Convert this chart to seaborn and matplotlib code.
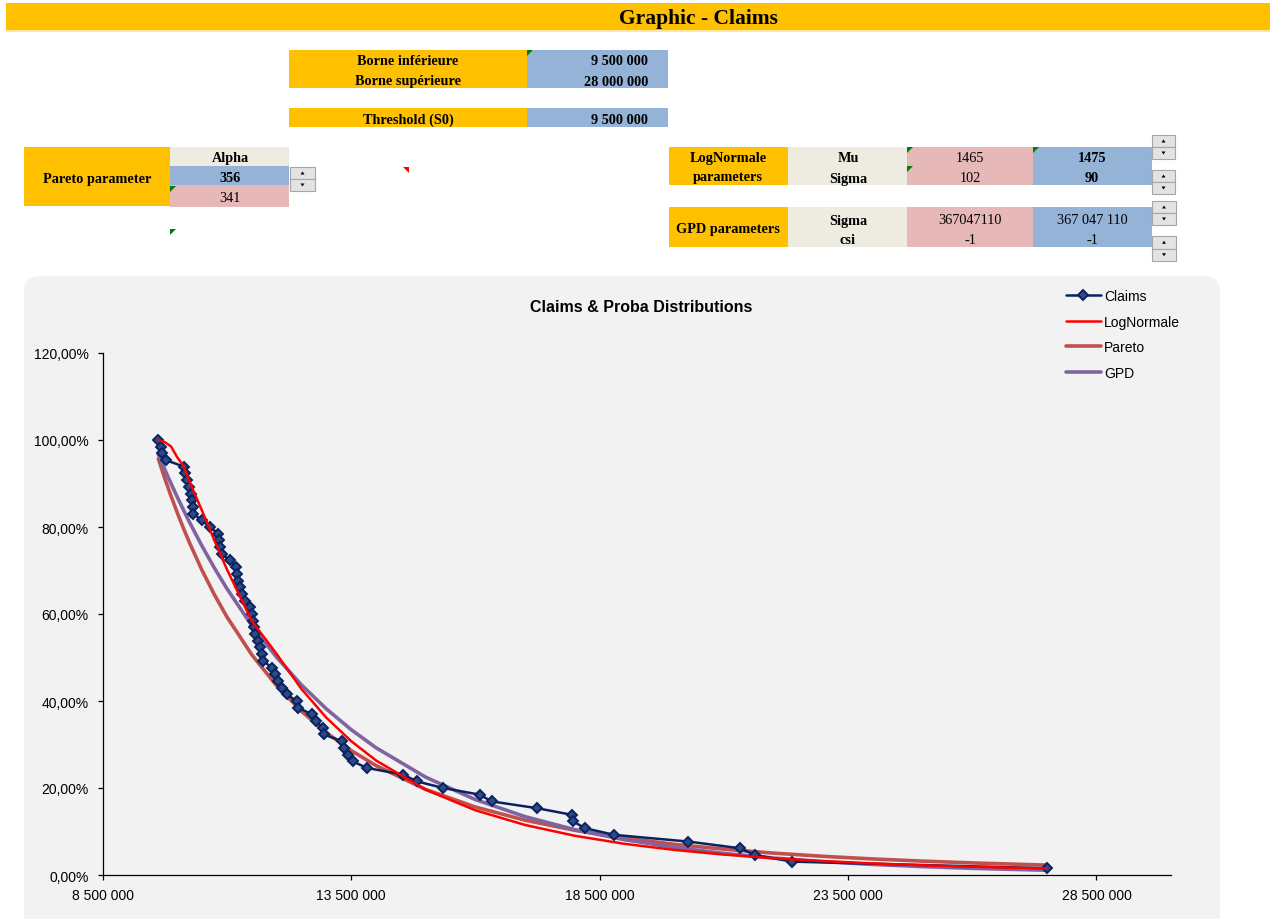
import numpy as np
import pandas as pd
import matplotlib
matplotlib.use("Agg")
import matplotlib.pyplot as plt
import seaborn as sns
from matplotlib.patches import Rectangle, FancyBboxPatch, Polygon
from matplotlib.ticker import FuncFormatter, FixedLocator

# ---------------- data ----------------
claims_x = [9619000, 9673000, 9687000, 9768000, 10142000, 10156000, 10190000, 10236000,
            10271000, 10291000, 10311000, 10323000, 10492000, 10659000, 10826000, 10846000,
            10870000, 10894000, 11061000, 11182000, 11196000, 11228000, 11263000, 11297000,
            11363000, 11464000, 11498000, 11524000, 11544000, 11564000, 11631000, 11665000,
            11699000, 11731000, 11900000, 11967000, 12033000, 12102000, 12202000, 12403000,
            12429000, 12717000, 12792000, 12939000, 12950000, 13309000, 13355000, 13442000,
            13530000, 13812000, 14548000, 14818000, 15353000, 16091000, 16327000, 17232000,
            17936000, 17969000, 18204000, 18793000, 20282000, 21323000, 21624000, 22363000,
            27513000]
claims_y = [1.0000, 0.9846, 0.9692, 0.9538, 0.9385, 0.9231, 0.9077, 0.8923, 0.8769, 0.8615,
            0.8462, 0.8308, 0.8154, 0.8000, 0.7846, 0.7692, 0.7538, 0.7385, 0.7231, 0.7077,
            0.6923, 0.6769, 0.6615, 0.6462, 0.6308, 0.6154, 0.6000, 0.5846, 0.5692, 0.5538,
            0.5385, 0.5231, 0.5077, 0.4923, 0.4769, 0.4615, 0.4462, 0.4308, 0.4154, 0.4000,
            0.3846, 0.3692, 0.3538, 0.3385, 0.3231, 0.3077, 0.2923, 0.2769, 0.2615, 0.2462,
            0.2308, 0.2154, 0.2000, 0.1846, 0.1692, 0.1538, 0.1385, 0.1231, 0.1077, 0.0923,
            0.0769, 0.0615, 0.0462, 0.0308, 0.0154]

fit_x = [9620000, 9750000, 9875000, 10000000, 10125000, 10250000, 10500000, 10750000,
         11000000, 11500000, 12000000, 12500000, 13000000, 13500000, 14000000, 15000000,
         16000000, 17000000, 18000000, 19000000, 20000000, 21000000, 22000000, 23000000,
         24000000, 25000000, 26000000, 27500000]
lognormale_y = [0.9997, 0.9950, 0.9851, 0.9602, 0.9407, 0.9036, 0.8371, 0.7688, 0.7027, 0.5842,
                0.5081, 0.4276, 0.3618, 0.3078, 0.2634, 0.1960, 0.1488, 0.1150, 0.0902, 0.0717,
                0.0577, 0.0469, 0.0385, 0.0319, 0.0266, 0.0224, 0.0189, 0.0149]
pareto_y = [0.9567, 0.9117, 0.8712, 0.8331, 0.7971, 0.7630, 0.7003, 0.6440, 0.5934, 0.5065,
            0.4353, 0.3765, 0.3274, 0.2862, 0.2515, 0.1967, 0.1563, 0.1260, 0.1028, 0.0848,
            0.0706, 0.0594, 0.0503, 0.0429, 0.0369, 0.0319, 0.0278, 0.0227]
gpd_y = [0.9668, 0.9321, 0.9000, 0.8691, 0.8392, 0.8104, 0.7560, 0.7053, 0.6583, 0.5737,
         0.5005, 0.4370, 0.3820, 0.3342, 0.2926, 0.2249, 0.1734, 0.1342, 0.1042, 0.0812,
         0.0634, 0.0497, 0.0390, 0.0308, 0.0243, 0.0193, 0.0153, 0.0109]

x_ticks = [8500000, 13500000, 18500000, 23500000, 28500000]
y_ticks = [0.0, 0.2, 0.4, 0.6, 0.8, 1.0, 1.2]

# ---------------- style ----------------
sns.set_style("white")
plt.rcParams['font.family'] = ['Liberation Sans', 'DejaVu Sans']
plt.rcParams['text.color'] = 'black'
plt.rcParams['axes.labelcolor'] = 'black'
plt.rcParams['xtick.color'] = 'black'
plt.rcParams['ytick.color'] = 'black'

W, H = 1274, 920
fig = plt.figure(figsize=(W / 100, H / 100), dpi=100)
fig.patch.set_facecolor("white")

ORANGE = "#FFC000"
BLUE = "#95B3D7"
PINK = "#E6B8B7"
BEIGE = "#EEECE1"
SERIF = ['Liberation Serif', 'DejaVu Serif']


def R(x0, y0, x1, y1, fc, ec='none', lw=0.0, z=0):
    fig.patches.append(Rectangle((x0 / 100, (H - y1) / 100), (x1 - x0) / 100, (y1 - y0) / 100,
                                 transform=fig.dpi_scale_trans, fc=fc, ec=ec, lw=lw, zorder=z))


def T(x, y, s, ha='center', bold=True, size=10.3, family=SERIF):
    fig.text(x / W, 1 - y / H, s, ha=ha, va='center', fontsize=size,
             fontweight='bold' if bold else 'normal', family=family, color='black')


def tri(x, y, color, corner='tl', s=6):
    if corner == 'tl':
        pts = [(x, y), (x + s, y), (x, y + s)]
    else:
        pts = [(x, y), (x + s, y), (x + s, y + s)]
    pts = [(px / 100, (H - py) / 100) for px, py in pts]
    fig.patches.append(Polygon(pts, closed=True, transform=fig.dpi_scale_trans,
                               fc=color, ec='none', zorder=3))


def spin(x0, x1, y0, y1):
    ym = (y0 + y1) / 2
    for a, b, up in [(y0, ym, True), (ym, y1, False)]:
        R(x0, a, x1, b, "#E3E3E3", ec="#A6A6A6", lw=0.8, z=2)
        cx, cy = (x0 + x1) / 2, (a + b) / 2
        if up:
            pts = [(cx - 2, cy + 1.5), (cx + 2, cy + 1.5), (cx, cy - 1.5)]
        else:
            pts = [(cx - 2, cy - 1.5), (cx + 2, cy - 1.5), (cx, cy + 1.5)]
        pts = [(px / 100, (H - py) / 100) for px, py in pts]
        fig.patches.append(Polygon(pts, closed=True, transform=fig.dpi_scale_trans,
                                   fc='black', ec='none', zorder=3))


# title bar
R(6, 4, 1270, 31, ORANGE)
R(6, 31, 1270, 33, "#FFE699")
T(698, 19, "Graphic - Claims", size=15.5)

# bornes
R(289, 51, 527, 89, ORANGE)
R(527, 51, 668, 89, BLUE)
T(408, 62, "Borne inférieure")
T(408, 82, "Borne supérieure")
T(648, 62, "9 500 000", ha='right')
T(648, 82, "28 000 000", ha='right')
tri(527, 51, "#008000")

# threshold
R(289, 109, 527, 128, ORANGE)
R(527, 109, 668, 128, BLUE)
T(408, 120, "Threshold (S0)")
T(648, 120, "9 500 000", ha='right')

# pareto
R(24, 148, 170, 207, ORANGE)
R(170, 148, 289, 167, BEIGE)
R(170, 167, 289, 186, BLUE)
R(170, 186, 289, 208, PINK)
T(97, 180, "Pareto parameter")
T(230, 159, "Alpha")
T(230, 178, "356")
T(230, 198, "341", bold=False)
spin(290, 315, 168, 192)
tri(170, 187, "#008000")
tri(170, 230, "#008000")
tri(403, 168, "#FF0000", corner='tr')

# lognormale
R(669, 148, 788, 186, ORANGE)
R(788, 148, 907, 186, BEIGE)
R(907, 148, 1033, 186, PINK)
R(1033, 148, 1152, 186, BLUE)
T(728, 159, "LogNormale")
T(728, 178, "parameters")
T(848, 159, "Mu")
T(848, 179, "Sigma")
T(970, 159, "1465", bold=False)
T(970, 179, "102", bold=False)
T(1092, 159, "1475")
T(1092, 179, "90")
tri(907, 148, "#008000")
tri(907, 167, "#008000")
tri(1033, 148, "#008000")
spin(1152, 1175, 136, 160)
spin(1152, 1175, 171, 195)

# GPD
R(669, 208, 788, 248, ORANGE)
R(788, 208, 907, 248, BEIGE)
R(907, 208, 1033, 248, PINK)
R(1033, 208, 1152, 248, BLUE)
T(728, 230, "GPD parameters")
T(848, 221, "Sigma")
T(848, 241, "csi")
T(970, 221, "367047110", bold=False)
T(970, 241, "-1", bold=False)
T(1092, 221, "367 047 110", bold=False)
T(1092, 241, "-1", bold=False)
spin(1152, 1176, 202, 226)
spin(1152, 1176, 237, 262)

# chart background (rounded)
fig.patches.append(FancyBboxPatch((24 / 100, (H - 935) / 100), (1220 - 24) / 100, (935 - 277) / 100,
                                  boxstyle="round,pad=0,rounding_size=0.16",
                                  transform=fig.dpi_scale_trans, fc="#F2F2F2", ec="none", zorder=-1))
fig.text(641 / W, 1 - 307 / H, "Claims & Proba Distributions", ha='center', va='center',
         fontsize=11.5, fontweight='bold', color='black', family=['Liberation Sans', 'DejaVu Sans'])

# ---------------- axes ----------------
ax_l, ax_r, ax_b, ax_t = 102.7, 1171, 876, 354
ax = fig.add_axes([ax_l / W, 1 - ax_b / H, (ax_r - ax_l) / W, (ax_b - ax_t) / H])
ax.set_facecolor("none")
ax.set_zorder(1)

df_claims = pd.DataFrame({"x": claims_x, "y": claims_y})
df_fit = pd.DataFrame({"x": fit_x, "LogNormale": lognormale_y, "Pareto": pareto_y, "GPD": gpd_y})

sns.lineplot(data=df_fit, x="x", y="Pareto", ax=ax, color="#C0504D", lw=2.6, sort=False,
             estimator=None, label="Pareto", zorder=2)
sns.lineplot(data=df_fit, x="x", y="GPD", ax=ax, color="#8064A2", lw=2.6, sort=False,
             estimator=None, label="GPD", zorder=3)
sns.lineplot(data=df_claims, x="x", y="y", ax=ax, color="#0A2260", lw=1.8, sort=False,
             estimator=None, marker="D", markersize=5, markerfacecolor="#2B4A86",
             markeredgecolor="#0A2260", markeredgewidth=1.4, label="Claims", zorder=4)
sns.lineplot(data=df_fit, x="x", y="LogNormale", ax=ax, color="#FF0000", lw=1.8, sort=False,
             estimator=None, label="LogNormale", zorder=5)

ax.set_xlim(8500000, 30000000)
ax.set_ylim(0, 1.2)
ax.xaxis.set_major_locator(FixedLocator(x_ticks))
ax.yaxis.set_major_locator(FixedLocator(y_ticks))
ax.xaxis.set_major_formatter(FuncFormatter(lambda v, p: f"{v:,.0f}".replace(",", " ")))
ax.yaxis.set_major_formatter(FuncFormatter(lambda v, p: f"{v * 100:.2f}%".replace(".", ",")))
ax.set_xlabel("")
ax.set_ylabel("")
ax.grid(False)
for s in ["top", "right"]:
    ax.spines[s].set_visible(False)
for s in ["left", "bottom"]:
    ax.spines[s].set_color("black")
    ax.spines[s].set_linewidth(0.9)
ax.tick_params(axis='both', direction='out', length=3.6, width=0.9, color='black',
               labelsize=10, labelcolor='black', left=True, bottom=True)
ax.tick_params(axis='y', pad=6.5)
ax.tick_params(axis='x', pad=6)

handles, labels = ax.get_legend_handles_labels()
order = ["Claims", "LogNormale", "Pareto", "GPD"]
hmap = dict(zip(labels, handles))
leg = ax.legend([hmap[k] for k in order], order, loc='upper left',
                bbox_to_anchor=(1066 / W, 1 - 290 / H), bbox_transform=fig.transFigure,
                frameon=False, fontsize=10, handlelength=2.5, handletextpad=0.25,
                labelspacing=0.83, borderpad=0, borderaxespad=0, numpoints=1)
for t in leg.get_texts():
    t.set_color('black')

fig.savefig("out.png", dpi=100)
